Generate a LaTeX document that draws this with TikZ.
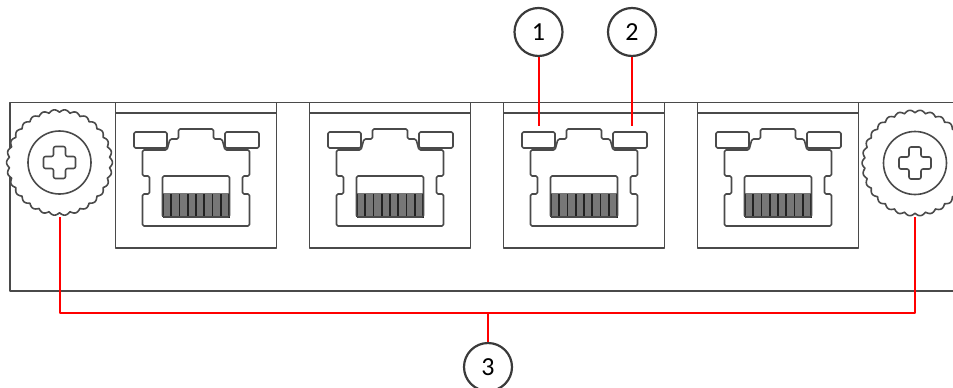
\documentclass[tikz,border=0pt]{standalone}
\usepackage{fontspec}
\setmainfont{Carlito}
\definecolor{linegray}{HTML}{4A4A4A}
\definecolor{callgray}{HTML}{3A3A3A}
\definecolor{pingray}{HTML}{777777}
\definecolor{pindark}{HTML}{222222}
\begin{document}
\begin{tikzpicture}[x=1pt,y=-1pt,line join=round,
  hw/.style={draw=linegray,line width=1.6pt},
  callout/.style={circle,draw=callgray,line width=2.2pt,minimum size=48pt,inner sep=0pt,
    fill=white,font=\fontsize{26}{26}\selectfont},
  lead/.style={draw=red,line width=2pt}]
\useasboundingbox (0,0) rectangle (953,388);
\begin{scope}
\clip (0,0) rectangle (953,388);
% panel
\draw[hw] (953,102.5) -- (10,102.5) -- (10,291) -- (953,291);
% ports
\foreach \c in {196,390,584,778}{
  \draw[hw] ({\c-80.5},102.5) -- ({\c-80.5},248) -- ({\c+80.5},248) -- ({\c+80.5},102.5);
  \draw[hw] ({\c-80.5},113) -- ({\c+80.5},113);
  % jack body
  \draw[hw,rounded corners=1.5pt] ({\c-53.5},150) -- ({\c-53.5},176) -- ({\c-46.5},176) -- ({\c-46.5},194)
    -- ({\c-53.5},194) -- ({\c-53.5},226) -- ({\c+53.5},226) -- ({\c+53.5},194) -- ({\c+46.5},194)
    -- ({\c+46.5},176) -- ({\c+53.5},176) -- ({\c+53.5},150) -- ({\c+29},150) -- ({\c+26},139)
    -- ({\c+17.5},139) -- ({\c+17.5},129) -- ({\c-17.5},129) -- ({\c-17.5},139) -- ({\c-26},139)
    -- ({\c-29},150) -- cycle;
  % LEDs
  \draw[hw,fill=white,rounded corners=1.5pt] ({\c-62},132) rectangle ({\c-29},148);
  \draw[hw,fill=white,rounded corners=1.5pt] ({\c+29},132) rectangle ({\c+63},148);
  % plug opening and pins
  \fill[pingray] ({\c-33.5},193) rectangle ({\c+33.5},217);
  \foreach \k in {0,...,8}{
    \draw[pindark,line width=1.6pt] ({\c-33+\k*66/8},194) -- ({\c-33+\k*66/8},217);
  }
  \draw[pindark,line width=1.6pt] ({\c-33.5},217) -- ({\c+33.5},217);
  \draw[hw,rounded corners=1.5pt] ({\c-33.5},176) rectangle ({\c+33.5},217);
}
% screws
\foreach \sx/\sy in {59.5/162.5,915/163}{
  \draw[hw,fill=white] plot[domain=0:360,samples=721]
    ({\sx+(50.3+2.6*abs(cos(15*\x)))*cos(\x)},{\sy+(50.3+2.6*abs(cos(15*\x)))*sin(\x)}) -- cycle;
  \draw[hw] (\sx,\sy) circle[radius=31.5];
  \draw[hw,rounded corners=2pt] ({\sx-6},{\sy-16}) -- ({\sx+6},{\sy-16}) -- ({\sx+6},{\sy-6})
    -- ({\sx+16},{\sy-6}) -- ({\sx+16},{\sy+6}) -- ({\sx+6},{\sy+6}) -- ({\sx+6},{\sy+16})
    -- ({\sx-6},{\sy+16}) -- ({\sx-6},{\sy+6}) -- ({\sx-16},{\sy+6}) -- ({\sx-16},{\sy-6})
    -- ({\sx-6},{\sy-6}) -- cycle;
}
\end{scope}
% callouts
\node[callout] (c1) at (538.5,32) {1};
\node[callout] (c2) at (632,32) {2};
\node[callout] (c3) at (488,367) {3};
\coordinate (led1) at (538.5,126);
\coordinate (led2) at (632,126);
\coordinate (sL) at (60,217);
\coordinate (sR) at (915,217);
\coordinate (jL) at (60,313);
\coordinate (jR) at (915,313);
\coordinate (j3) at (488,313);
\draw[lead] (c1) -- (led1);
\draw[lead] (c2) -- (led2);
\draw[lead] (sL) -- (jL) -- (jR) -- (sR);
\draw[lead] (j3) -- (c3);
\end{tikzpicture}
\end{document}
